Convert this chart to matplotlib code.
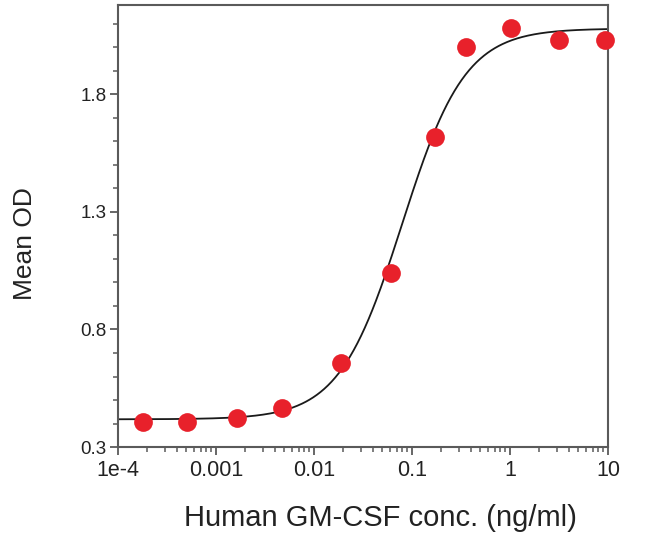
import numpy as np
import matplotlib
matplotlib.use("Agg")
import matplotlib.pyplot as plt
from matplotlib.ticker import FixedLocator, MultipleLocator, LogLocator, NullFormatter

plt.rcParams['font.family'] = ['Liberation Sans', 'DejaVu Sans']

# data
conc = [1.8e-4, 5.1e-4, 1.64e-3, 4.7e-3, 0.0189, 0.061, 0.172, 0.356, 1.02, 3.16, 9.3]
mean_od = [0.406, 0.406, 0.423, 0.465, 0.656, 1.04, 1.618, 2.0, 2.084, 2.03, 2.033]

# 4PL fit parameters
fit_bottom = 0.418
fit_top = 2.08
fit_log_ec50 = -1.1
fit_hill = 1.35

xtick_vals = [1e-4, 1e-3, 1e-2, 1e-1, 1, 10]
xtick_labels = ["1e-4", "0.001", "0.01", "0.1", "1", "10"]
ytick_vals = [0.3, 0.8, 1.3, 1.8]
ytick_labels = ["0.3", "0.8", "1.3", "1.8"]

fig = plt.figure(figsize=(6.5, 5.37), dpi=100)
ax = fig.add_axes([0.1815, 0.1675, 0.7538, 0.8232])

xs = np.logspace(-4, 1, 400)
ys = fit_bottom + (fit_top - fit_bottom) / (1 + 10 ** ((fit_log_ec50 - np.log10(xs)) * fit_hill))
ax.plot(xs, ys, color='#1a1a1a', lw=1.3, zorder=2)
ax.plot(conc, mean_od, 'o', color='#e8212b', markersize=13.5, markeredgewidth=0, zorder=3,
        clip_on=False)

ax.set_xscale('log')
ax.set_xlim(1e-4, 10)
ax.set_ylim(0.3, 2.18)
ax.xaxis.set_major_locator(FixedLocator(xtick_vals))
ax.set_xticklabels(xtick_labels)
ax.xaxis.set_minor_locator(LogLocator(base=10, subs=np.arange(2, 10)))
ax.xaxis.set_minor_formatter(NullFormatter())
ax.yaxis.set_major_locator(FixedLocator(ytick_vals))
ax.set_yticklabels(ytick_labels)
ax.yaxis.set_minor_locator(MultipleLocator(0.1))

spine_color = '#5a5a5a'
for s in ax.spines.values():
    s.set_color(spine_color)
    s.set_linewidth(1.5)
ax.tick_params(which='major', direction='out', length=6, width=1.3, color=spine_color,
               labelcolor='#222222', pad=3)
ax.tick_params(axis='x', which='major', labelsize=15.5)
ax.tick_params(axis='y', which='major', labelsize=13.5, pad=2)
ax.tick_params(which='minor', direction='out', length=3.6, width=1.1, color=spine_color)
ax.tick_params(top=False, right=False, which='both')

ax.set_xlabel("Human GM-CSF conc. (ng/ml)", fontsize=21, color='#222222', va='top')
ax.xaxis.set_label_coords(0.535, -0.128)
ax.set_ylabel("Mean OD", fontsize=19, color='#222222')
ax.yaxis.set_label_coords(-0.165, 0.46)

fig.savefig("out.png", dpi=100)
